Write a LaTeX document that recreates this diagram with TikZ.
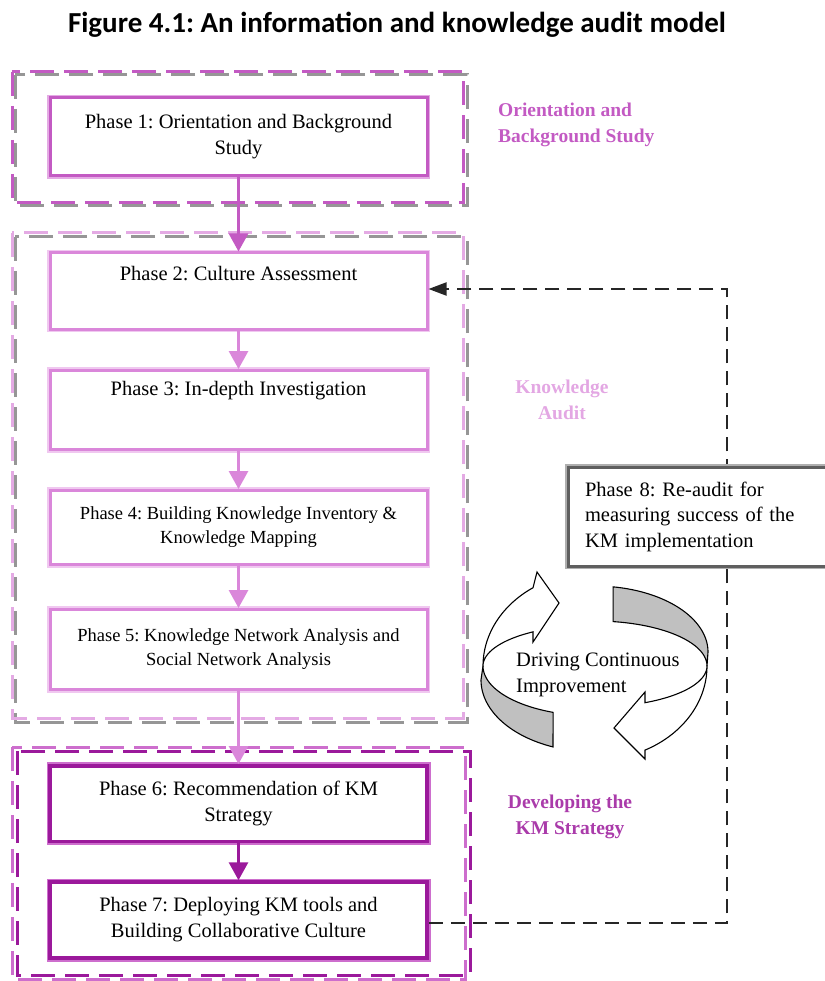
\documentclass[tikz,border=0pt]{standalone}
\usepackage{fontspec}
\setmainfont{Liberation Serif}
\newfontfamily\titlefont{Carlito}
\usetikzlibrary{arrows.meta}
\frenchspacing

\definecolor{orient}{RGB}{195,90,195}
\definecolor{orientlt}{RGB}{228,170,228}
\definecolor{audit}{RGB}{218,135,218}
\definecolor{auditlt}{RGB}{240,200,240}
\definecolor{strat}{RGB}{155,25,155}
\definecolor{stratlt}{RGB}{205,110,205}
\definecolor{framegrey}{RGB}{150,150,150}
\definecolor{ringgrey}{RGB}{192,192,192}
\definecolor{boxgrey}{RGB}{95,95,95}
\definecolor{boxgreylt}{RGB}{175,175,175}

\begin{document}
\begin{tikzpicture}[x=1pt,y=-1pt,
  phasebox/.style={rectangle, minimum width=377pt, inner sep=0pt, align=center,
    fill=white, font=\fontsize{20.5}{26}\selectfont},
  smallphase/.style={font=\fontsize{18.5}{24}\selectfont},
  orientbox/.style={draw=orient, line width=3pt, preaction={draw=orientlt, line width=6.5pt}},
  auditbox/.style={draw=audit, line width=3pt, preaction={draw=auditlt, line width=6.5pt}},
  stratbox/.style={draw=strat, line width=3.5pt, preaction={draw=stratlt, line width=7pt}},
  phasetext/.style={inner sep=0pt, font=\fontsize{20.5}{26}\selectfont},
  grpframe/.style={line width=3pt, dash pattern=on 24pt off 10pt},
  flowtip/.style={-{Triangle[length=18pt,width=19pt]}, line width=3pt},
  feedback/.style={draw=black!85, line width=2pt, dash pattern=on 14pt off 8pt},
  stagelabel/.style={font=\bfseries\fontsize{19.5}{26}\selectfont, align=center, inner sep=0pt},
  ringline/.style={draw=black, line width=1.1pt, line join=miter}
]
\useasboundingbox (0,0) rectangle (824,981);

% title
\node[font=\titlefont\bfseries\fontsize{29}{34}\selectfont] (title) at (397,25)
  {Figure 4.1: An information and knowledge audit model};

% stage frames (two offset dashed outlines each)
\draw[grpframe, draw=framegrey] (15,75) rectangle (467,206);
\draw[grpframe, draw=orient] (12,72) rectangle (463,203);
\draw[grpframe, draw=framegrey] (15,237) rectangle (467,722);
\draw[grpframe, draw=orientlt] (12,233) rectangle (463,718);
\draw[grpframe, draw=stratlt] (12,747) rectangle (465,979);
\draw[grpframe, draw=strat] (17,751) rectangle (470,975);

% stage labels
\node[stagelabel, text=orient, align=left, anchor=west] (lab1) at (498,125)
  {Orientation and\\Background Study};
\node[stagelabel, text=orientlt!90!audit] (lab2) at (562,400) {Knowledge\\Audit};
\node[stagelabel, text=strat!85!white] (lab3) at (570,817) {Developing the\\KM Strategy};

% phases
\node[phasebox, orientbox, minimum height=78pt] (p1) at (238.5,137)
  {Phase 1: Orientation and Background\\Study};
\node[phasebox, auditbox, minimum height=76pt] (p2) at (238.5,291) {};
\node[phasetext] (p2t) at ([yshift=-22pt]p2.north) {Phase 2: Culture Assessment};
\node[phasebox, auditbox, minimum height=79pt] (p3) at (238.5,410) {};
\node[phasetext] (p3t) at ([yshift=-22pt]p3.north) {Phase 3: In-depth Investigation};
\node[phasebox, smallphase, auditbox, minimum height=74pt] (p4) at (238.5,527.5)
  {Phase 4: Building Knowledge Inventory \&\\Knowledge Mapping};
\node[phasebox, smallphase, auditbox, minimum height=80pt] (p5) at (238.5,649.5)
  {Phase 5: Knowledge Network Analysis and\\Social Network Analysis};
\node[phasebox, stratbox, minimum height=75.5pt] (p6) at (238.5,803.5)
  {Phase 6: Recommendation of KM\\Strategy};
\node[phasebox, stratbox, minimum height=76pt] (p7) at (238.5,920)
  {Phase 7: Deploying KM tools and\\Building Collaborative Culture};

% flow between phases
\draw[flowtip, draw=orient] (p1) -- (p2);
\draw[flowtip, draw=audit] (p2) -- (p3);
\draw[flowtip, draw=audit] (p3) -- (p4);
\draw[flowtip, draw=audit] (p4) -- (p5);
\draw[flowtip, draw=audit] (p5) -- (p6);
\draw[flowtip, draw=strat] (p6) -- (p7);

% re-audit feedback loop
\coordinate (fbx) at (727,600);
\draw[feedback, -{Triangle[length=18pt,width=13pt]}] ([yshift=-3pt]p7.east) -| (fbx) |- ([yshift=2pt]p2.east);

% phase 8
\node[rectangle, fill=white, draw=boxgrey, line width=3pt,
  preaction={draw=boxgreylt, line width=5.5pt},
  text width=238pt, inner xsep=17pt, inner ysep=0pt, minimum height=99pt,
  align=left, font=\fontsize{20.5}{25.5}\selectfont] (p8) at (704,516.5)
  {Phase 8: Re-audit for\\measuring success of the\\KM implementation};

% continuous improvement ring
\begin{scope}[shift={(595,666)}]
  % upper-left white arrow
  \filldraw[ringline, fill=white]
    plot[domain=180:123.6, samples=40, variable=\t] ({112*cos(\t)},{-94*sin(\t)})
    -- (-58,-94) -- (-36,-63) -- (-62,-24)
    -- plot[domain=123.6:180, samples=40, variable=\t] ({112*cos(\t)},{-41*sin(\t)})
    -- cycle;
  % lower-left grey band
  \filldraw[ringline, fill=ringgrey]
    plot[domain=180:248, samples=40, variable=\t] ({112*cos(\t)},{-50*sin(\t)})
    -- plot[domain=248.4:180, samples=40, variable=\t] ({114*cos(\t)},{14-72*sin(\t)})
    -- cycle;
  % upper-right grey band
  \filldraw[ringline, fill=ringgrey]
    plot[domain=0:80.7, samples=40, variable=\t] ({112*cos(\t)},{-45*sin(\t)})
    -- plot[domain=80.8:0, samples=40, variable=\t] ({113*cos(\t)},{-14-66*sin(\t)})
    -- cycle;
  % lower-right white arrow
  \filldraw[ringline, fill=white]
    plot[domain=0:-63.5, samples=40, variable=\t] ({112*cos(\t)},{-94*sin(\t)})
    -- (50,93) -- (19,62) -- (50,26)
    -- plot[domain=-63.5:0, samples=40, variable=\t] ({112*cos(\t)},{-41*sin(\t)})
    -- cycle;
\end{scope}
\node[anchor=west, align=left, inner sep=0pt, font=\fontsize{20.5}{26}\selectfont] (cycle)
  at (516,675) {Driving Continuous\\Improvement};

\end{tikzpicture}
\end{document}
